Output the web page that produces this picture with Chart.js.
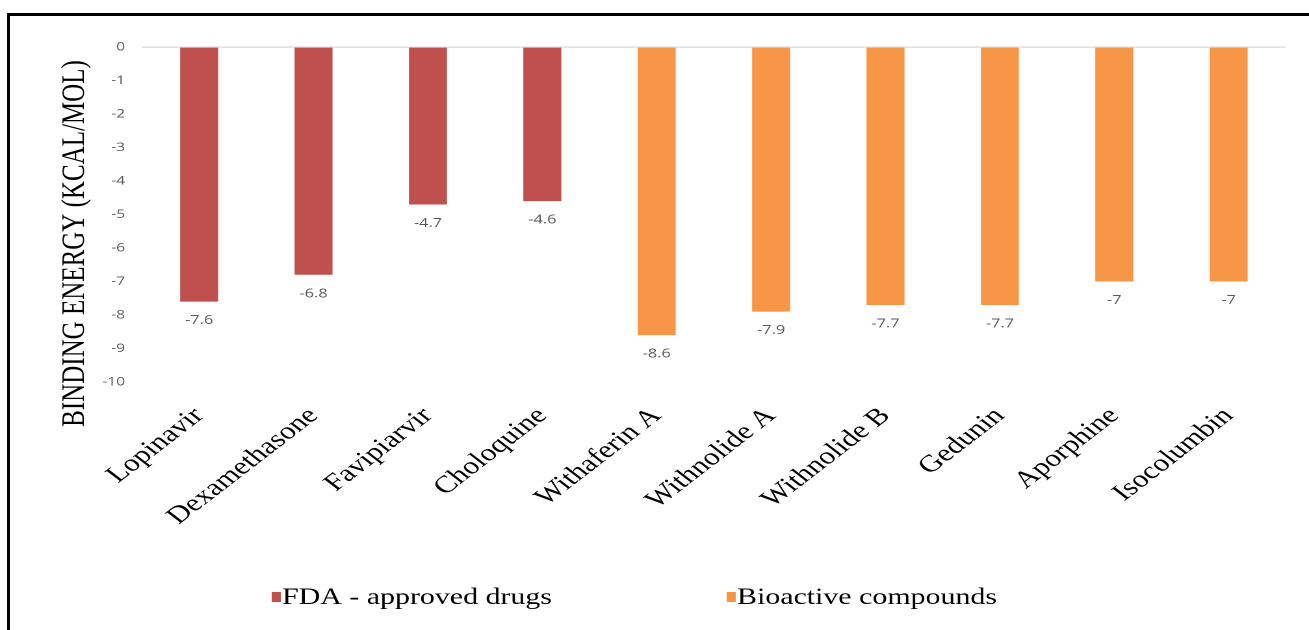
<!DOCTYPE html>
<html><head><meta charset="utf-8">
<script src="https://cdn.jsdelivr.net/npm/chart.js@4/dist/chart.umd.min.js"></script>
<style>
html,body{margin:0;padding:0;background:#fff;overflow:hidden;width:1309px;height:630px;}
#wrap{position:absolute;left:0;top:0;width:1007px;height:630px;transform:scaleX(1.2999);transform-origin:0 0;}
#c{width:1007px;height:630px;display:block;}
#frame{position:absolute;left:7px;top:13px;width:1400px;height:700px;border-top:3px solid #000;border-left:3px solid #000;}
</style></head><body>
<div id="wrap"><canvas id="c" width="1007" height="630"></canvas></div>
<div id="frame"></div>
<script>
const categories = ['Lopinavir','Dexamethasone','Favipiarvir','Choloquine','Withaferin A','Withnolide A','Withnolide B','Gedunin','Aporphine','Isocolumbin'];
const seriesNames = ['FDA - approved drugs','Bioactive compounds'];
const fdaValues = [-7.6,-6.8,-4.7,-4.6,null,null,null,null,null,null];
const bioValues = [null,null,null,null,-8.6,-7.9,-7.7,-7.7,-7,-7];
const yTickMin = -10;
const yTickMax = 0;
const yTickStep = 1;
const yTitle = 'BINDING ENERGY (KCAL/MOL)';
const colors = ['#C0504D','#F79646'];

const valueLabels = {
  id:'valueLabels',
  afterDatasetsDraw(chart){
    const ctx = chart.ctx;
    ctx.save();
    ctx.font = '12.5px "Open Sans"';
    ctx.fillStyle = '#595959';
    ctx.textAlign = 'center';
    ctx.textBaseline = 'middle';
    chart.data.datasets.forEach((ds,i)=>{
      const meta = chart.getDatasetMeta(i);
      meta.data.forEach((el,j)=>{
        const v = ds.data[j];
        if (v === null || v === undefined) return;
        ctx.fillText(String(v), el.x, el.y + 19);
      });
    });
    ctx.restore();
  }
};

const extras = {
  id:'extras',
  afterDraw(chart){
    const ctx = chart.ctx;
    ctx.save();
    // y axis title
    ctx.translate(57.7, 243.5);
    ctx.rotate(-Math.PI/2);
    ctx.font = '25px "Liberation Serif"';
    ctx.fillStyle = '#000';
    ctx.textAlign = 'center';
    ctx.textBaseline = 'middle';
    ctx.fillText(yTitle, 0, 0);
    ctx.restore();
    // legend
    ctx.save();
    ctx.font = '23px "Liberation Serif"';
    ctx.textBaseline = 'middle';
    ctx.textAlign = 'left';
    const pos = [209, 559];
    chart.data.datasets.forEach((ds,i)=>{
      const x = pos[i], y = 597;
      ctx.fillStyle = ds.backgroundColor;
      ctx.fillRect(x, y - 5, 7, 10);
      ctx.fillStyle = '#000';
      ctx.fillText(ds.label, x + 8, y + 1);
    });
    ctx.restore();
  }
};

new Chart(document.getElementById('c'), {
  type:'bar',
  data:{
    labels: categories,
    datasets:[
      {label: seriesNames[0], data: fdaValues, backgroundColor: colors[0], grouped:false, categoryPercentage:1, barPercentage:0.332},
      {label: seriesNames[1], data: bioValues, backgroundColor: colors[1], grouped:false, categoryPercentage:1, barPercentage:0.332}
    ]
  },
  options:{
    responsive:false,
    animation:false,
    devicePixelRatio:2,
    layout:{padding:{left:0, top:47, right:17.8, bottom:0}},
    plugins:{legend:{display:false}, tooltip:{enabled:false}},
    scales:{
      x:{
        grid:{display:false},
        border:{display:false},
        ticks:{color:'#000', font:{family:'"Liberation Serif"', size:24}, minRotation:45, maxRotation:45, padding:12, autoSkip:false},
        afterFit(s){ s.height = 248; }
      },
      y:{
        min:yTickMin, max:yTickMax,
        grid:{color:(c)=> c.tick && c.tick.value === 0 ? '#D9D9D9' : 'rgba(0,0,0,0)', drawTicks:false, lineWidth:1.3},
        border:{display:false},
        ticks:{stepSize:yTickStep, color:'#595959', font:{family:'"Open Sans"', size:12}, padding:13},
        afterFit(s){ s.width = 109.2; }
      }
    }
  },
  plugins:[valueLabels, extras]
});
</script>
</body></html>
